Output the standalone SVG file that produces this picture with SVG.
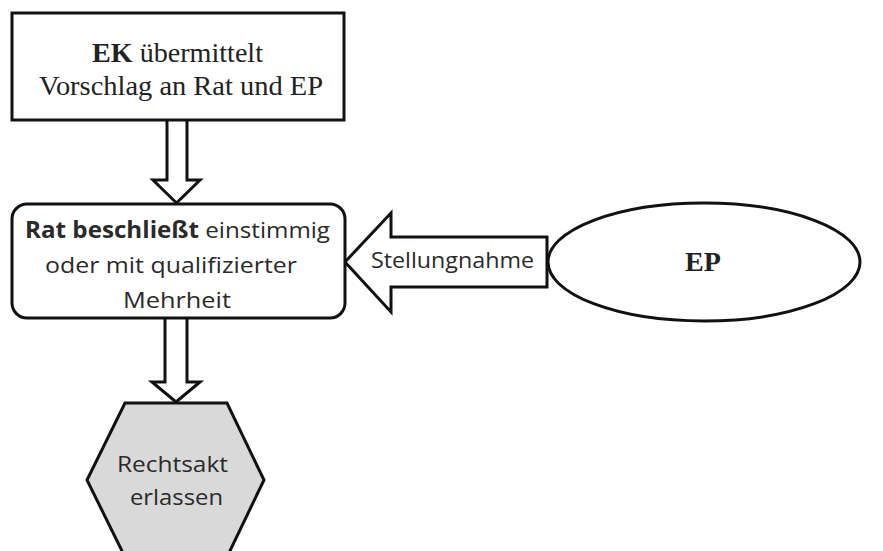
<svg xmlns="http://www.w3.org/2000/svg" width="883" height="551" viewBox="0 0 883 551">
<style>
.box{fill:#fff;stroke:#111;stroke-width:3}
.arr{fill:#fff;stroke:#111;stroke-width:3;stroke-linejoin:miter}
.serif{font-family:"Liberation Serif","Times New Roman",serif;fill:#222}
.sans{font-family:"Open Sans","Noto Sans",sans-serif;fill:#2a2a2a}
</style>
<rect width="883" height="551" fill="#fff"/>
<g id="connectors">
<path class="arr" d="M167,120 V180 H153 L176.5,203 L200,180 H187 V120"/>
<path class="arr" d="M165,318 V382 H152 L176,402 L200,382 H187 V318"/>
<g id="stellungnahme">
<path class="arr" d="M547,237 H391 V213 L345,262 L391,312 V287 H547 Z"/>
<text class="sans" x="452.5" y="268" font-size="22" text-anchor="middle" textLength="163" lengthAdjust="spacingAndGlyphs">Stellungnahme</text>
</g>
</g>
<g id="ek">
<rect class="box" x="12" y="13" width="332" height="107"/>
<text class="serif" x="177.5" y="62" font-size="28" text-anchor="middle" textLength="171" lengthAdjust="spacingAndGlyphs"><tspan font-weight="bold">EK</tspan> übermittelt</text>
<text class="serif" x="181" y="95" font-size="28" text-anchor="middle" textLength="284" lengthAdjust="spacingAndGlyphs">Vorschlag  an Rat und EP</text>
</g>
<g id="rat">
<rect class="box" x="12" y="204" width="333" height="114" rx="15" ry="15"/>
<text class="sans" x="177.5" y="238" font-size="22.5" text-anchor="middle" textLength="305" lengthAdjust="spacingAndGlyphs"><tspan font-weight="bold">Rat beschließt</tspan> einstimmig</text>
<text class="sans" x="171" y="273" font-size="22.5" text-anchor="middle" textLength="252" lengthAdjust="spacingAndGlyphs">oder mit qualifizierter</text>
<text class="sans" x="177" y="308" font-size="22.5" text-anchor="middle" textLength="108" lengthAdjust="spacingAndGlyphs">Mehrheit</text>
</g>
<g id="ep">
<ellipse class="box" cx="704" cy="262" rx="156" ry="59"/>
<text class="serif" x="703" y="271" font-size="28" font-weight="bold" text-anchor="middle">EP</text>
</g>
<g id="rechtsakt">
<polygon points="125,403 227,403 264,480 227,557 125,557 87,480" fill="#d9d9d9" stroke="#111" stroke-width="3"/>
<text class="sans" x="172.5" y="472" font-size="22" text-anchor="middle" textLength="111" lengthAdjust="spacingAndGlyphs">Rechtsakt</text>
<text class="sans" x="176.5" y="505" font-size="22" text-anchor="middle" textLength="93" lengthAdjust="spacingAndGlyphs">erlassen</text>
</g>
</svg>
